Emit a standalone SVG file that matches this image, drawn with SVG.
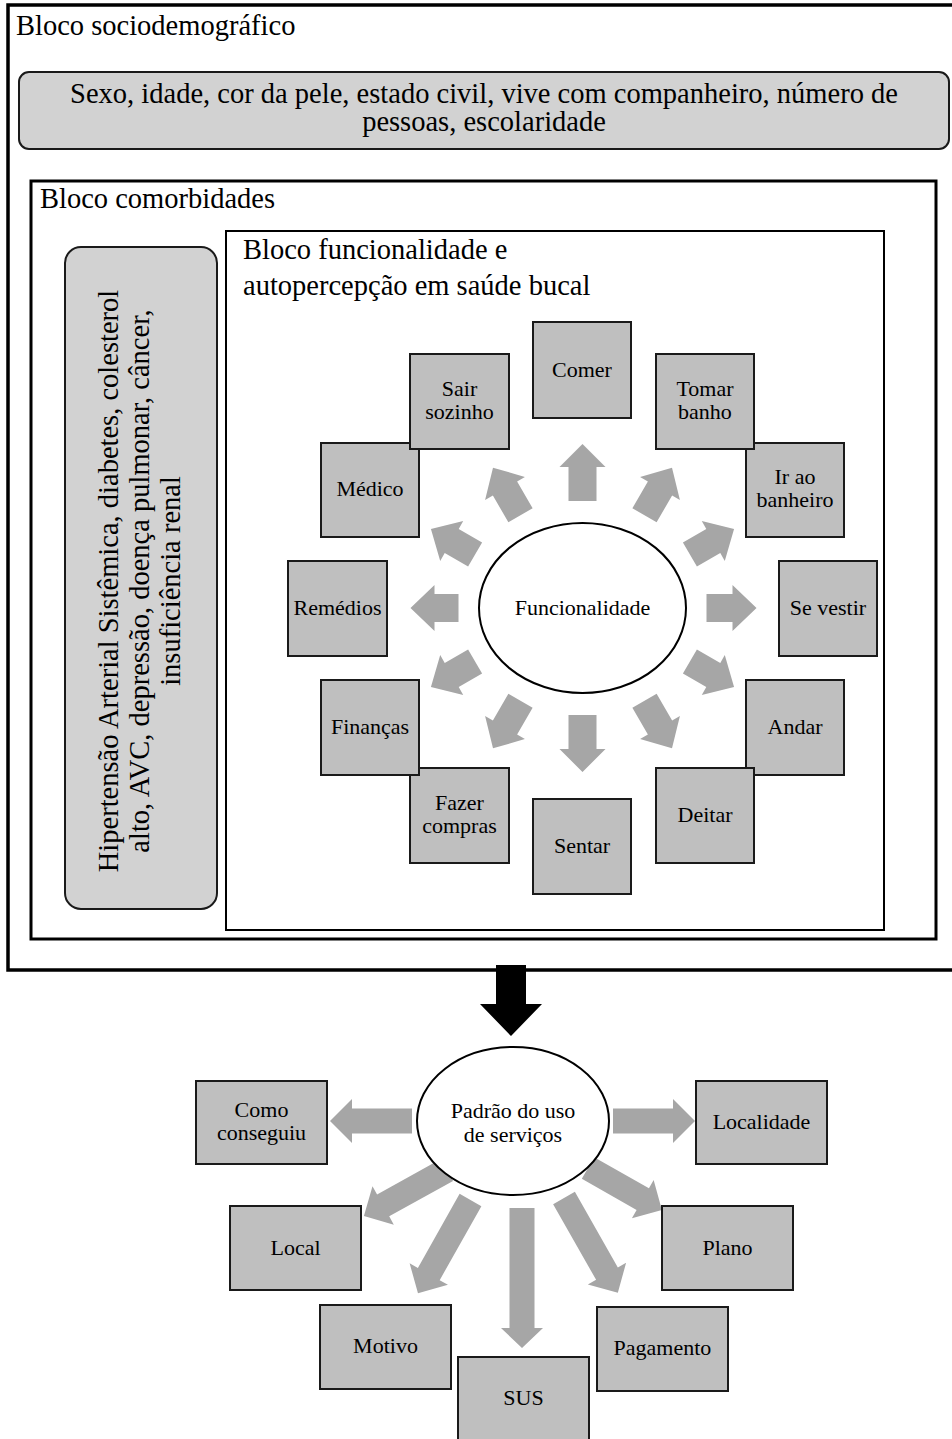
<svg xmlns="http://www.w3.org/2000/svg" xmlns:xlink="http://www.w3.org/1999/xlink" width="952" height="1439" viewBox="0 0 952 1439">
<defs>
<style>
text{font-family:"Liberation Serif","Times New Roman",serif;fill:#000}
.big{font-size:28.5px}
.lbl{font-size:22px;text-anchor:middle}
.box{fill:#bfbfbf;stroke:#1a1a1a;stroke-width:2}
.rbox{fill:#d2d2d2;stroke:#1a1a1a;stroke-width:2}
.arr{fill:#a6a6a6}
.blk{fill:#000}
</style>
<path id="a48" d="M0,-14 H24 V-23 L48,0 L24,23 V14 H0 Z"/>
<path id="a50" d="M0,-14 H26 V-23 L50,0 L26,23 V14 H0 Z"/>
<path id="a51" d="M0,-14 H27 V-23 L51,0 L27,23 V14 H0 Z"/>
<path id="a55" d="M0,-14 H31 V-23 L55,0 L31,23 V14 H0 Z"/>
<path id="a57" d="M0,-14 H34 V-23 L57,0 L34,23 V14 H0 Z"/>
</defs>
<rect width="952" height="1439" fill="#fff"/>

<g id="bloco-sociodemografico">
<rect x="8" y="5" width="950" height="965" fill="none" stroke="#000" stroke-width="3.5"/>
<text class="big" x="16" y="35">Bloco sociodemográfico</text>
</g>
<g id="sociodemografico-vars">
<rect class="rbox" x="19" y="72" width="930" height="77" rx="10"/>
<text class="big" x="484" y="103" text-anchor="middle">Sexo, idade, cor da pele, estado civil, vive com companheiro, número de</text>
<text class="big" x="484" y="131" text-anchor="middle">pessoas, escolaridade</text>
</g>
<g id="bloco-comorbidades">
<rect x="31" y="181" width="905" height="758" fill="none" stroke="#000" stroke-width="3"/>
<text class="big" x="40" y="208">Bloco comorbidades</text>
</g>
<g id="comorbidades-vars">
<rect class="rbox" x="65" y="247" width="152" height="662" rx="16"/>
<text class="big" text-anchor="middle" transform="translate(118,581) rotate(-90)">Hipertensão Arterial Sistêmica, diabetes, colesterol</text>
<text class="big" text-anchor="middle" transform="translate(149,581) rotate(-90)">alto, AVC, depressão, doença pulmonar, câncer,</text>
<text class="big" text-anchor="middle" transform="translate(180,581) rotate(-90)">insuficiência renal</text>
</g>
<g id="bloco-funcionalidade">
<rect x="226" y="231" width="658" height="699" fill="none" stroke="#000" stroke-width="2"/>
<text class="big" x="243" y="259">Bloco funcionalidade e</text>
<text class="big" x="243" y="295">autopercepção em saúde bucal</text>
</g>

<g id="connectors">
<use href="#a50" class="arr" transform="translate(706.5,608) rotate(0)"/>
<use href="#a51" class="arr" transform="translate(689.9,661.5) rotate(30)"/>
<use href="#a55" class="arr" transform="translate(644.5,700.7) rotate(60)"/>
<use href="#a57" class="arr" transform="translate(582.5,715) rotate(90)"/>
<use href="#a55" class="arr" transform="translate(520.5,700.7) rotate(120)"/>
<use href="#a51" class="arr" transform="translate(475.1,661.5) rotate(150)"/>
<use href="#a48" class="arr" transform="translate(458.5,608) rotate(180)"/>
<use href="#a51" class="arr" transform="translate(475.1,554.5) rotate(210)"/>
<use href="#a55" class="arr" transform="translate(520.5,515.3) rotate(240)"/>
<use href="#a57" class="arr" transform="translate(582.5,501) rotate(270)"/>
<use href="#a55" class="arr" transform="translate(644.5,515.3) rotate(300)"/>
<use href="#a51" class="arr" transform="translate(689.9,554.5) rotate(330)"/>
<path class="blk" d="M496,965 H526 V1004 H542 L511,1036 L480,1004 H496 Z"/>
<path class="arr" d="M0,-12.5 H60 V-22 L82,0 L60,22 V12.5 H0 Z" transform="translate(412,1121) rotate(180)"/>
<path class="arr" d="M0,-12.5 H60 V-22 L82,0 L60,22 V12.5 H0 Z" transform="translate(613,1121)"/>
<path class="arr" d="M0,-12.5 H73 V-22 L95,0 L73,22 V12.5 H0 Z" transform="translate(447,1170) rotate(151)"/>
<path class="arr" d="M0,-12.5 H85 V-22 L107,0 L85,22 V12.5 H0 Z" transform="translate(470.5,1200) rotate(119.4)"/>
<path class="arr" d="M0,-12.5 H120 V-21 L140,0 L120,21 V12.5 H0 Z" transform="translate(522,1208) rotate(90)"/>
<path class="arr" d="M0,-12.5 H87 V-22 L109,0 L87,22 V12.5 H0 Z" transform="translate(564,1198) rotate(60.4)"/>
<path class="arr" d="M0,-12.5 H63 V-22 L85,0 L63,22 V12.5 H0 Z" transform="translate(588,1168) rotate(29.6)"/>
</g>

<g id="funcionalidade">
<ellipse cx="582.5" cy="608" rx="103.5" ry="85" fill="#fff" stroke="#000" stroke-width="2"/>
<text class="lbl" x="582.5" y="615">Funcionalidade</text>
</g>
<g id="comer"><rect class="box" x="533" y="322" width="98" height="96"/><text class="lbl" x="582" y="377">Comer</text></g>
<g id="medico"><rect class="box" x="321" y="443" width="98" height="94"/><text class="lbl" x="370" y="496">Médico</text></g>
<g id="sair-sozinho"><rect class="box" x="410" y="354" width="99" height="95"/><text class="lbl" x="459.5" y="396">Sair</text><text class="lbl" x="459.5" y="419">sozinho</text></g>
<g id="ir-ao-banheiro"><rect class="box" x="746" y="443" width="98" height="94"/><text class="lbl" x="795" y="484">Ir ao</text><text class="lbl" x="795" y="507">banheiro</text></g>
<g id="tomar-banho"><rect class="box" x="656" y="354" width="98" height="95"/><text class="lbl" x="705" y="396">Tomar</text><text class="lbl" x="705" y="419">banho</text></g>
<g id="remedios"><rect class="box" x="288" y="561" width="99" height="95"/><text class="lbl" x="337.5" y="615">Remédios</text></g>
<g id="se-vestir"><rect class="box" x="779" y="561" width="98" height="95"/><text class="lbl" x="828" y="615">Se vestir</text></g>
<g id="fazer-compras"><rect class="box" x="410" y="768" width="99" height="95"/><text class="lbl" x="459.5" y="810">Fazer</text><text class="lbl" x="459.5" y="833">compras</text></g>
<g id="financas"><rect class="box" x="321" y="680" width="98" height="95"/><text class="lbl" x="370" y="734">Finanças</text></g>
<g id="andar"><rect class="box" x="746" y="680" width="98" height="95"/><text class="lbl" x="795" y="734">Andar</text></g>
<g id="deitar"><rect class="box" x="656" y="768" width="98" height="95"/><text class="lbl" x="705" y="822">Deitar</text></g>
<g id="sentar"><rect class="box" x="533" y="799" width="98" height="95"/><text class="lbl" x="582" y="853">Sentar</text></g>

<g id="padrao-uso">
<ellipse cx="513" cy="1121" rx="96" ry="74" fill="#fff" stroke="#000" stroke-width="2"/>
<text class="lbl" x="513" y="1118">Padrão do uso</text>
<text class="lbl" x="513" y="1142">de serviços</text>
</g>
<g id="como-conseguiu"><rect class="box" x="196" y="1081" width="131" height="83"/><text class="lbl" x="261.5" y="1117">Como</text><text class="lbl" x="261.5" y="1140">conseguiu</text></g>
<g id="localidade"><rect class="box" x="696" y="1081" width="131" height="83"/><text class="lbl" x="761.5" y="1129">Localidade</text></g>
<g id="local"><rect class="box" x="230" y="1206" width="131" height="84"/><text class="lbl" x="295.5" y="1255">Local</text></g>
<g id="plano"><rect class="box" x="662" y="1206" width="131" height="84"/><text class="lbl" x="727.5" y="1255">Plano</text></g>
<g id="motivo"><rect class="box" x="320" y="1305" width="131" height="84"/><text class="lbl" x="385.5" y="1353">Motivo</text></g>
<g id="pagamento"><rect class="box" x="597" y="1307" width="131" height="84"/><text class="lbl" x="662.5" y="1355">Pagamento</text></g>
<g id="sus"><rect class="box" x="458" y="1357" width="131" height="90"/><text class="lbl" x="523.5" y="1405">SUS</text></g>
</svg>
